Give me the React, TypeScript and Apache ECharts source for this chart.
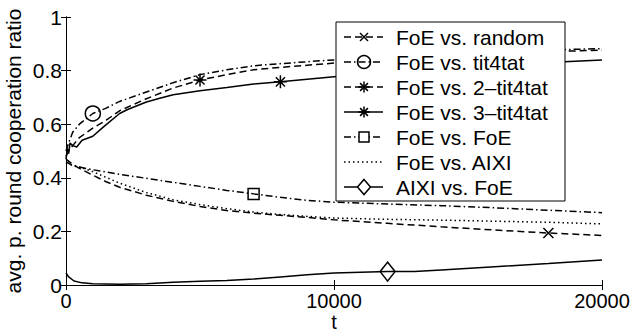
import React, { useEffect, useRef } from 'react';
import * as echarts from 'echarts';

const FONT = 'Liberation Sans, Arial, Helvetica, sans-serif';

const xTickLabels = ['0', '10000', '20000'];
const yTickLabels = ['0', '0.2', '0.4', '0.6', '0.8', '1'];
const xAxisTitle = 't';
const yAxisTitle = 'avg. p. round cooperation ratio';

const seriesNames = [
  'FoE vs. random',
  'FoE vs. tit4tat',
  'FoE vs. 2\u2013tit4tat',
  'FoE vs. 3\u2013tit4tat',
  'FoE vs. FoE',
  'FoE vs. AIXI',
  'AIXI vs. FoE',
];

// FoE vs. random (dashed, x marker at 18000)
const tRandom = [0, 250, 500, 1000, 1500, 2000, 3000, 4000, 5000, 6000, 7000, 8000, 9000, 10000, 12000, 14000, 16000, 18000, 20000];
const vRandom = [0.47, 0.45, 0.435, 0.41, 0.385, 0.365, 0.335, 0.312, 0.293, 0.278, 0.268, 0.26, 0.252, 0.243, 0.23, 0.217, 0.205, 0.194, 0.185];

// FoE vs. tit4tat (dash-dot, circle at 1000)
const tTit = [0, 100, 250, 500, 1000, 1500, 2000, 3000, 4000, 5000, 6000, 7000, 8000, 9000, 10000, 12000, 14000, 16000, 18000, 20000];
const vTit = [0.5, 0.53, 0.57, 0.6, 0.64, 0.66, 0.685, 0.72, 0.755, 0.785, 0.803, 0.818, 0.826, 0.833, 0.84, 0.852, 0.862, 0.87, 0.877, 0.882];

// FoE vs. 2-tit4tat (dashed, asterisk at 5000)
const t2Tit = [0, 100, 250, 500, 1000, 1500, 2000, 3000, 4000, 5000, 6000, 7000, 8000, 9000, 10000, 12000, 14000, 16000, 18000, 20000];
const v2Tit = [0.48, 0.5, 0.52, 0.55, 0.585, 0.615, 0.65, 0.695, 0.735, 0.765, 0.785, 0.803, 0.812, 0.82, 0.828, 0.843, 0.855, 0.864, 0.871, 0.876];

// FoE vs. 3-tit4tat (solid, asterisk at 8000)
const t3Tit = [0, 50, 100, 150, 250, 400, 600, 1000, 1400, 2000, 2300, 3000, 3500, 4000, 5000, 6000, 7000, 8000, 9000, 10000, 12000, 14000, 16000, 18000, 20000];
const v3Tit = [0.47, 0.51, 0.49, 0.53, 0.52, 0.515, 0.54, 0.555, 0.59, 0.64, 0.655, 0.683, 0.697, 0.71, 0.725, 0.737, 0.75, 0.758, 0.768, 0.777, 0.793, 0.806, 0.818, 0.83, 0.84];

// FoE vs. FoE (dash-dot, square at 7000)
const tFoE = [0, 250, 500, 1000, 2000, 3000, 4000, 5000, 6000, 7000, 8000, 9000, 10000, 12000, 14000, 16000, 18000, 20000];
const vFoE = [0.46, 0.445, 0.44, 0.43, 0.413, 0.398, 0.383, 0.368, 0.353, 0.34, 0.327, 0.316, 0.309, 0.302, 0.296, 0.288, 0.279, 0.27];

// FoE vs. AIXI (dotted)
const tAixi = [0, 500, 1000, 2000, 3000, 4000, 5000, 6000, 7000, 8000, 9000, 10000, 12000, 14000, 16000, 18000, 20000];
const vAixi = [0.455, 0.44, 0.423, 0.38, 0.345, 0.318, 0.3, 0.285, 0.272, 0.263, 0.256, 0.25, 0.245, 0.242, 0.238, 0.234, 0.228];

// AIXI vs. FoE (solid, diamond at 12000)
const tAixiFoE = [0, 100, 300, 600, 1000, 2000, 3000, 4000, 5000, 6000, 7000, 8000, 9000, 10000, 11000, 12000, 13000, 14000, 16000, 18000, 20000];
const vAixiFoE = [0.045, 0.03, 0.015, 0.008, 0.005, 0.003, 0.005, 0.01, 0.014, 0.017, 0.022, 0.03, 0.038, 0.045, 0.048, 0.05, 0.05, 0.056, 0.068, 0.08, 0.093];

const DASH = [7, 4];
const DASHDOT = [7, 3, 1.5, 3];
const DOT = [1.5, 3];
const LW = 1.5;

const SYM_X = 'path://M0,0L10,10M10,0L0,10';
const SYM_AST = 'path://M5,0L5,10M0,5L10,5M1.5,1.5L8.5,8.5M8.5,1.5L1.5,8.5';
const SYM_DIAMOND = 'path://M5,0L10,7L5,14L0,7Z';

type Def = { t: number[]; v: number[]; dash: number[] | 'solid'; markT: number | null; symbol: string; size: number | number[] };

const defs: Def[] = [
  { t: tRandom, v: vRandom, dash: DASH, markT: 18000, symbol: SYM_X, size: 10 },
  { t: tTit, v: vTit, dash: DASHDOT, markT: 1000, symbol: 'circle', size: 15 },
  { t: t2Tit, v: v2Tit, dash: DASH, markT: 5000, symbol: SYM_AST, size: 13 },
  { t: t3Tit, v: v3Tit, dash: 'solid', markT: 8000, symbol: SYM_AST, size: 13 },
  { t: tFoE, v: vFoE, dash: DASHDOT, markT: 7000, symbol: 'rect', size: 11 },
  { t: tAixi, v: vAixi, dash: DOT, markT: null, symbol: 'none', size: 0 },
  { t: tAixiFoE, v: vAixiFoE, dash: 'solid', markT: 12000, symbol: SYM_DIAMOND, size: [15, 19] },
];

function legendGraphic() {
  const bx = 336, by = 22, bw = 229, bh = 179;
  const children: any[] = [
    { type: 'rect', z: 100, shape: { x: bx, y: by, width: bw, height: bh }, style: { fill: '#fff', stroke: '#000', lineWidth: 1 } },
  ];
  const lx1 = 344, lx2 = 383, mx = 364;
  const kinds = ['x', 'circle', 'ast', 'ast', 'square', 'none', 'diamond'];
  seriesNames.forEach((name, i) => {
    const y = 37 + 25 * i;
    const d = defs[i].dash;
    children.push({
      type: 'line',
      z: 101,
      shape: { x1: lx1, y1: y, x2: lx2, y2: y },
      style: { stroke: '#000', lineWidth: LW, lineDash: d === 'solid' ? null : d },
    });
    const st = { stroke: '#000', lineWidth: LW, fill: 'none' };
    const k = kinds[i];
    const add = (el: any) => children.push({ z: 102, ...el });
    if (k === 'x') {
      const s = 4;
      add({ type: 'line', shape: { x1: mx - s, y1: y - s, x2: mx + s, y2: y + s }, style: st });
      add({ type: 'line', shape: { x1: mx - s, y1: y + s, x2: mx + s, y2: y - s }, style: st });
    } else if (k === 'circle') {
      add({ type: 'circle', shape: { cx: mx, cy: y, r: 6.5 }, style: st });
    } else if (k === 'ast') {
      const s = 5.5, q = 3.9;
      add({ type: 'line', shape: { x1: mx - s, y1: y, x2: mx + s, y2: y }, style: st });
      add({ type: 'line', shape: { x1: mx, y1: y - s, x2: mx, y2: y + s }, style: st });
      add({ type: 'line', shape: { x1: mx - q, y1: y - q, x2: mx + q, y2: y + q }, style: st });
      add({ type: 'line', shape: { x1: mx - q, y1: y + q, x2: mx + q, y2: y - q }, style: st });
    } else if (k === 'square') {
      add({ type: 'rect', shape: { x: mx - 5, y: y - 5, width: 10, height: 10 }, style: { ...st, fill: '#fff' } });
    } else if (k === 'diamond') {
      add({ type: 'polygon', shape: { points: [[mx, y - 7.5], [mx + 6.5, y], [mx, y + 7.5], [mx - 6.5, y]] }, style: { ...st, fill: '#fff' } });
    }
    add({
      type: 'text',
      x: 396,
      y,
      style: { text: name, fill: '#000', font: `21px ${FONT}`, textVerticalAlign: 'middle', textAlign: 'left' },
    });
  });
  return { type: 'group', z: 100, children };
}

export default function App() {
  const ref = useRef<HTMLDivElement>(null);
  useEffect(() => {
    if (!ref.current) return;
    const chart = echarts.init(ref.current, undefined, { renderer: 'svg' });
    const axisCommon = {
      type: 'value' as const,
      axisLine: { show: true, lineStyle: { color: '#000', width: 1 } },
      axisTick: { show: true, inside: true, length: 5, lineStyle: { color: '#000', width: 1 } },
      splitLine: { show: false },
    };
    const labelStyle = { color: '#000', fontSize: 21, fontFamily: FONT };
    const series = defs.map((d, i) => {
      const mi = d.markT === null ? -1 : d.t.indexOf(d.markT);
      return {
        type: 'line',
        name: seriesNames[i],
        symbol: 'circle',
        showSymbol: true,
        silent: true,
        data: d.t.map((t, j) =>
          j === mi
            ? { value: [t, d.v[j]], symbol: d.symbol, symbolSize: d.size }
            : { value: [t, d.v[j]], symbol: 'none' }
        ),
        lineStyle: { color: '#000', width: LW, type: d.dash },
        itemStyle: { color: 'rgba(0,0,0,0)', borderColor: '#000', borderWidth: LW },
        z: 3,
      };
    });
    chart.setOption({
      animation: false,
      backgroundColor: '#fff',
      grid: { left: 66, right: 31, top: 17, bottom: 47, containLabel: false, outerBoundsMode: 'none' },
      xAxis: [
        {
          ...axisCommon,
          min: 0,
          max: 20000,
          interval: 10000,
          position: 'bottom',
          axisLabel: { ...labelStyle, fontSize: 20, lineHeight: 16, margin: 8, formatter: (v: number) => xTickLabels[Math.round(v / 10000)] },
          name: xAxisTitle,
          nameLocation: 'middle',
          nameGap: 28.5,
          nameMoveOverlap: false,
          nameTextStyle: { ...labelStyle, fontSize: 20, lineHeight: 16 },
        },
        {
          ...axisCommon,
          min: 0,
          max: 20000,
          interval: 10000,
          position: 'top',
          axisLabel: { show: false },
        },
      ],
      yAxis: [
        {
          ...axisCommon,
          min: 0,
          max: 1,
          interval: 0.2,
          position: 'left',
          axisLabel: { ...labelStyle, margin: 4, formatter: (v: number) => yTickLabels[Math.round(v / 0.2)] },
          name: yAxisTitle,
          nameLocation: 'middle',
          nameGap: 42,
          nameMoveOverlap: false,
          nameTextStyle: { ...labelStyle },
        },
        {
          ...axisCommon,
          min: 0,
          max: 1,
          interval: 0.2,
          position: 'right',
          axisLabel: { show: false },
        },
      ],
      series,
      graphic: [legendGraphic()],
    });
    return () => chart.dispose();
  }, []);
  return (
    <div
      ref={ref}
      style={{ position: 'absolute', left: 0, top: 0, width: 633, height: 332, background: '#fff' }}
    />
  );
}
